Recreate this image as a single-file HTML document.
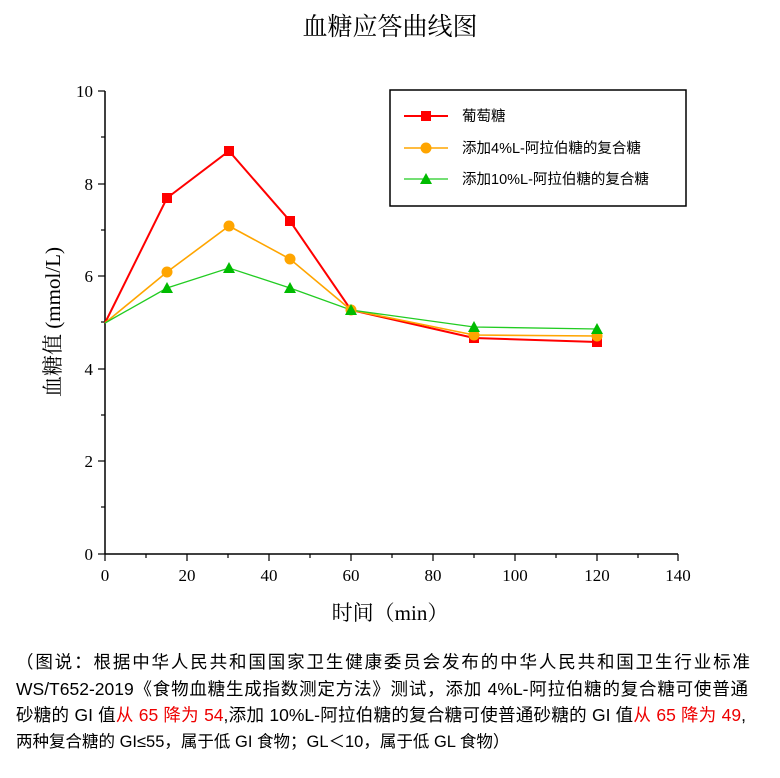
<!DOCTYPE html>
<html><head><meta charset="utf-8"><style>
body{margin:0;background:#fff;width:780px;height:778px;overflow:hidden;position:relative}
.cap{position:absolute;left:16px;top:649px;font-family:"Liberation Sans","Noto Sans CJK SC",sans-serif;font-size:17.5px;line-height:26.5px;color:#000;white-space:nowrap}
.cap div{text-align:justify;text-align-last:justify;height:26.5px}
.r{color:#e00}
</style></head><body>
<svg width="780" height="640" style="position:absolute;left:0;top:0" font-family="'Liberation Serif','Noto Serif CJK SC',serif">
<text x="390" y="35" font-size="25" text-anchor="middle">血糖应答曲线图</text>
<g stroke="#000" stroke-width="1.5" fill="none">
<line x1="105" y1="91" x2="105" y2="554"/>
<line x1="105" y1="554" x2="678" y2="554"/>
</g>
<g stroke="#000" stroke-width="1.2">
<line x1="98" y1="91" x2="105" y2="91"/><line x1="98" y1="184" x2="105" y2="184"/><line x1="98" y1="276" x2="105" y2="276"/><line x1="98" y1="369" x2="105" y2="369"/><line x1="98" y1="461" x2="105" y2="461"/><line x1="98" y1="554" x2="105" y2="554"/>
<line x1="101" y1="137" x2="105" y2="137"/><line x1="101" y1="230" x2="105" y2="230"/><line x1="101" y1="322" x2="105" y2="322"/><line x1="101" y1="415" x2="105" y2="415"/><line x1="101" y1="507" x2="105" y2="507"/>
<line x1="105" y1="554" x2="105" y2="561"/><line x1="187" y1="554" x2="187" y2="561"/><line x1="269" y1="554" x2="269" y2="561"/><line x1="351" y1="554" x2="351" y2="561"/><line x1="433" y1="554" x2="433" y2="561"/><line x1="515" y1="554" x2="515" y2="561"/><line x1="597" y1="554" x2="597" y2="561"/><line x1="678" y1="554" x2="678" y2="561"/>
<line x1="146" y1="554" x2="146" y2="558"/><line x1="228" y1="554" x2="228" y2="558"/><line x1="310" y1="554" x2="310" y2="558"/><line x1="392" y1="554" x2="392" y2="558"/><line x1="474" y1="554" x2="474" y2="558"/><line x1="556" y1="554" x2="556" y2="558"/><line x1="638" y1="554" x2="638" y2="558"/>
</g>
<g font-size="17" text-anchor="end">
<text x="93" y="97">10</text><text x="93" y="190">8</text><text x="93" y="282">6</text><text x="93" y="375">4</text><text x="93" y="467">2</text><text x="93" y="560">0</text>
</g>
<g font-size="17" text-anchor="middle">
<text x="105" y="581">0</text><text x="187" y="581">20</text><text x="269" y="581">40</text><text x="351" y="581">60</text><text x="433" y="581">80</text><text x="515" y="581">100</text><text x="597" y="581">120</text><text x="678" y="581">140</text>
</g>
<text x="390" y="620" font-size="21" text-anchor="middle">时间（min）</text>
<text transform="translate(60,322) rotate(-90)" font-size="21" text-anchor="middle">血糖值 (mmol/L)</text>
<polyline fill="none" stroke="#f00" stroke-width="2" points="105,323 167,198 229,151 290,221 351,310 474,338 597,342"/>
<polyline fill="none" stroke="#ffa500" stroke-width="1.6" points="105,323 167,272 229,226 290,259 351,310 474,335 597,336"/>
<polyline fill="none" stroke="#22cc22" stroke-width="1.3" points="105,323 167,288 229,268 290,288 351,310 474,327 597,329"/>
<g fill="#f00"><rect x="162" y="193" width="10" height="10"/><rect x="224" y="146" width="10" height="10"/><rect x="285" y="216" width="10" height="10"/><rect x="469" y="333" width="10" height="10"/><rect x="592" y="337" width="10" height="10"/></g>
<g fill="#ffa500"><circle cx="167" cy="272" r="5.5"/><circle cx="229" cy="226" r="5.5"/><circle cx="290" cy="259" r="5.5"/><circle cx="351" cy="310" r="5.5"/><circle cx="474" cy="335" r="5.5"/><circle cx="597" cy="336" r="5.5"/></g>
<g fill="#00bb00"><polygon points="167,282 173,293 161,293"/><polygon points="229,262 235,273 223,273"/><polygon points="290,282 296,293 284,293"/><polygon points="351,304 357,315 345,315"/><polygon points="474,321 480,332 468,332"/><polygon points="597,323 603,334 591,334"/></g>
<rect x="390" y="90" width="296" height="116" fill="#fff" stroke="#000" stroke-width="1.5"/>
<g font-family="'Liberation Sans','Noto Sans CJK SC',sans-serif" font-size="14.5">
<line x1="404" y1="116" x2="448" y2="116" stroke="#f00" stroke-width="2"/><rect x="421" y="111" width="10" height="10" fill="#f00"/>
<text x="462" y="121">葡萄糖</text>
<line x1="404" y1="148" x2="448" y2="148" stroke="#ffa500" stroke-width="1.6"/><circle cx="426" cy="148" r="5.5" fill="#ffa500"/>
<text x="462" y="153">添加4%L-阿拉伯糖的复合糖</text>
<line x1="404" y1="179" x2="448" y2="179" stroke="#22cc22" stroke-width="1.3"/><polygon points="426,173 432,184 420,184" fill="#00bb00"/>
<text x="462" y="184">添加10%L-阿拉伯糖的复合糖</text>
</g>
</svg>
<div class="cap">
<div style="width:734px">（图说：根据中华人民共和国国家卫生健康委员会发布的中华人民共和国卫生行业标准</div>
<div style="width:732px">WS/T652-2019《食物血糖生成指数测定方法》测试，添加 4%L-阿拉伯糖的复合糖可使普通</div>
<div style="width:730px">砂糖的 GI 值<span class="r">从 65 降为 54</span>,添加 10%L-阿拉伯糖的复合糖可使普通砂糖的 GI 值<span class="r">从 65 降为 49</span>,</div>
<div style="text-align:left;text-align-last:left;font-size:16.5px">两种复合糖的 GI≤55，属于低 GI 食物；GL＜10，属于低 GL 食物）</div>
</div>
</body></html>
